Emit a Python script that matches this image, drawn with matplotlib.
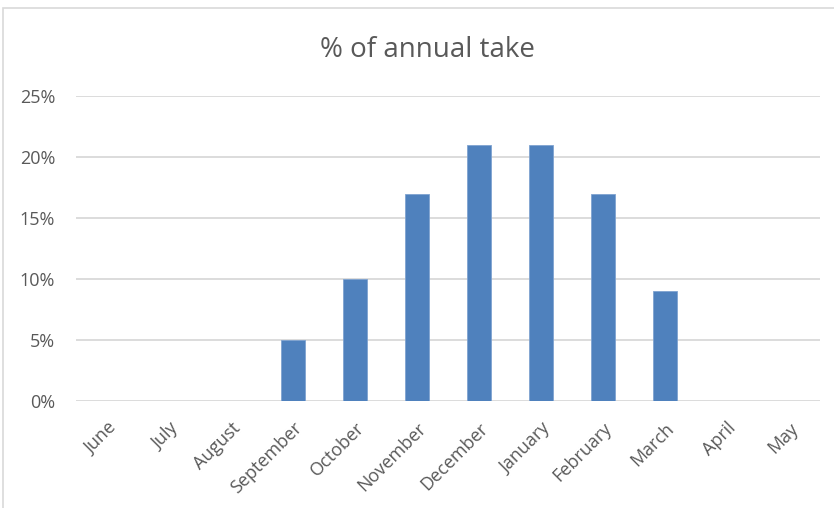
import matplotlib.pyplot as plt
from matplotlib.patches import Rectangle

months = ['June', 'July', 'August', 'September', 'October', 'November',
          'December', 'January', 'February', 'March', 'April', 'May']
take = [0, 0, 0, 5, 10, 17, 21, 21, 17, 9, 0, 0]
yticks = [0, 5, 10, 15, 20, 25]

plt.rcParams['font.family'] = ['Open Sans', 'DejaVu Sans']
grey = '#595959'

fig = plt.figure(figsize=(8.34, 5.08), dpi=100)
fig.patches.append(Rectangle((3 / 834, -0.1), 1.2, 1 - 8 / 508 + 0.1,
                             transform=fig.transFigure, fill=False,
                             edgecolor='#D9D9D9', linewidth=1.2))

ax = fig.add_axes([76 / 834, 1 - 401 / 508, 744 / 834, 305 / 508])
x = range(len(months))
ax.bar(x, take, width=0.4, color='#4F81BD', edgecolor='#7FA3D0', linewidth=0.6, zorder=3)

ax.set_xlim(-0.5, len(months) - 0.5)
ax.set_ylim(0, 25)
ax.set_yticks(yticks)
ax.set_yticklabels([f'{v}%' for v in yticks], color=grey, fontsize=13)
ax.set_xticks(list(x))
ax.set_xticklabels(months, rotation=45, ha='right', rotation_mode='anchor',
                   color=grey, fontsize=13)
ax.tick_params(length=0, pad=13)
ax.tick_params(axis='y', pad=15)
ax.yaxis.grid(True, color='#D9D9D9', linewidth=1.3, zorder=0)
for s in ax.spines.values():
    s.set_visible(False)

fig.text(427 / 834, 1 - 50 / 508, '% of annual take', ha='center', va='center',
         fontsize=20, color=grey)

fig.savefig('out.png', dpi=100)
